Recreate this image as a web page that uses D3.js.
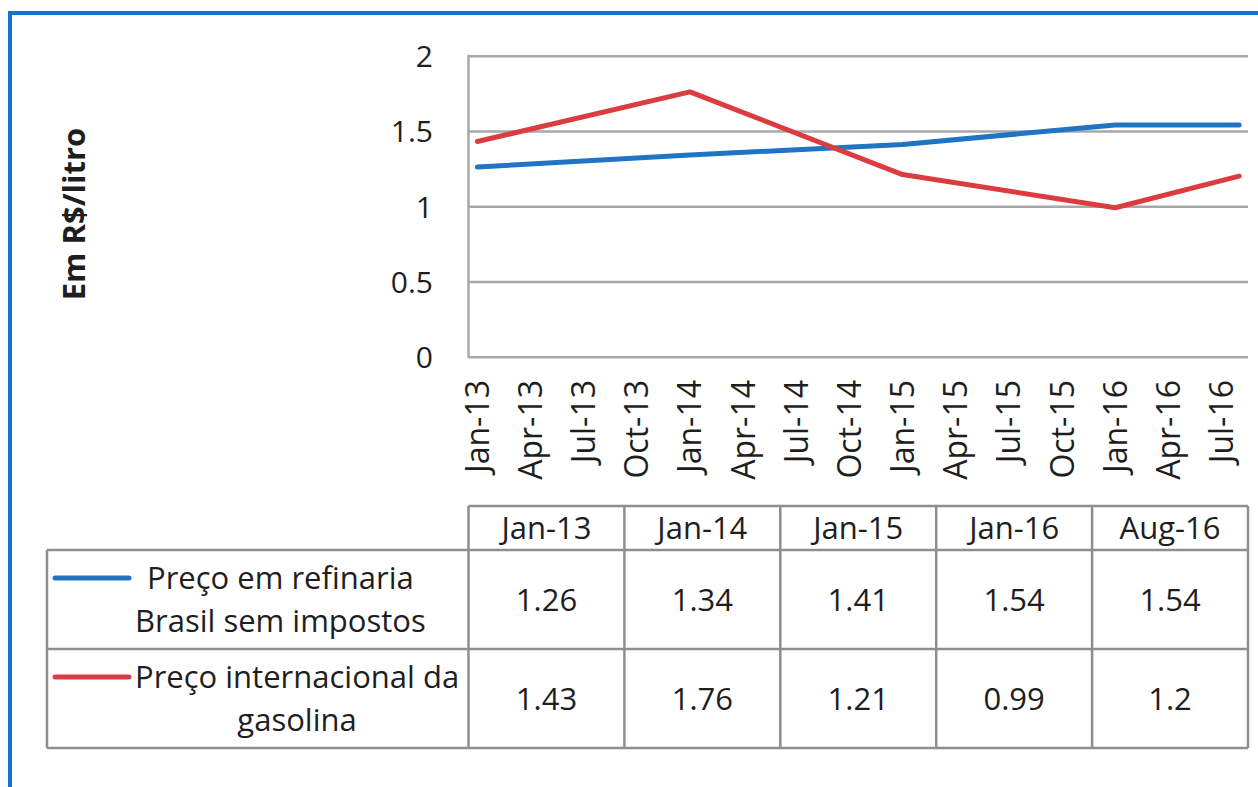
<!DOCTYPE html>
<html>
<head>
<meta charset="utf-8">
<script src="https://cdn.jsdelivr.net/npm/d3@7"></script>
<style>
  html, body { margin: 0; padding: 0; background: #fff; }
  svg { display: block; font-family: "Open Sans", "DejaVu Sans", sans-serif; }
</style>
</head>
<body>
<svg id="chart" width="1258" height="787"></svg>
<script>
// ---- data ----
const periods = ["2013-01", "2014-01", "2015-01", "2016-01", "2016-08"];
const periodLabels = ["Jan-13", "Jan-14", "Jan-15", "Jan-16", "Aug-16"];
const refinaria = [1.26, 1.34, 1.41, 1.54, 1.54];
const internacional = [1.43, 1.76, 1.21, 0.99, 1.2];
const seriesNames = [
  ["Preço em refinaria", "Brasil sem impostos"],
  ["Preço internacional da", "gasolina"]
];
const yTicks = [0, 0.5, 1, 1.5, 2];
const axisStart = "2013-01";
const axisEnd = "2016-08";
const yTitle = "Em R$/litro";

// ---- styling / layout ----
const seriesColors = ["#1f74c3", "#dc3c3f"];
const textColor = "#1e1e1e";
const gridColor = "#a8a8a8";
const tableColor = "#8e8e8e";
const frameColor = "#1672c8";
const plot = { left: 468.5, right: 1248, top: 55.7, bottom: 356.7 };
const table = { left: 47, headTop: 506, headBottom: 550, row1Bottom: 649, row2Bottom: 748 };

const svg = d3.select("#chart");

// outer blue frame (top and left edges)
svg.append("line").attr("x1", 10).attr("x2", 1258).attr("y1", 13).attr("y2", 13)
  .attr("stroke", frameColor).attr("stroke-width", 4);
svg.append("line").attr("x1", 10).attr("x2", 10).attr("y1", 11).attr("y2", 787)
  .attr("stroke", frameColor).attr("stroke-width", 4);

// ---- scales ----
const parseMonth = d3.timeParse("%Y-%m");
const t0 = parseMonth(axisStart);
const t1 = parseMonth(axisEnd);
const nMonths = d3.timeMonth.count(t0, t1);
const monthIndex = d => d3.timeMonth.count(t0, parseMonth(d));

const x = d3.scaleLinear().domain([-0.5, nMonths + 0.5]).range([plot.left, plot.right]);
const y = d3.scaleLinear().domain([0, 2]).range([plot.bottom, plot.top]);

// ---- y axis with gridlines ----
const yAxis = d3.axisLeft(y)
  .tickValues(yTicks)
  .tickFormat(d3.format(""))
  .tickSize(-(plot.right - plot.left))
  .tickPadding(35.5);

const gy = svg.append("g")
  .attr("transform", `translate(${plot.left},0)`)
  .call(yAxis);
gy.select(".domain").remove();
gy.selectAll(".tick line").attr("stroke", gridColor).attr("stroke-width", 2.5);
gy.selectAll(".tick text")
  .attr("fill", textColor)
  .attr("font-family", "Open Sans")
  .attr("font-size", 30)
  .attr("dy", "0.36em");

// vertical axis line
svg.append("line")
  .attr("x1", plot.left).attr("x2", plot.left)
  .attr("y1", plot.top - 1).attr("y2", plot.bottom + 1)
  .attr("stroke", gridColor).attr("stroke-width", 2.5);

// y axis title
svg.append("text")
  .attr("transform", "translate(74,214) rotate(-90)")
  .attr("text-anchor", "middle")
  .attr("dy", "0.35em")
  .attr("font-size", 31)
  .attr("font-weight", "bold")
  .attr("fill", textColor)
  .text(yTitle);

// ---- x axis: quarterly month labels, rotated ----
const quarterTicks = d3.timeMonth.every(3).range(t0, d3.timeMonth.offset(t1, 1));
const fmt = d3.timeFormat("%b-%y");
svg.append("g").selectAll("text")
  .data(quarterTicks)
  .join("text")
  .attr("transform", d => `translate(${x(d3.timeMonth.count(t0, d))},380) rotate(-90)`)
  .attr("text-anchor", "end")
  .attr("dy", "0.36em")
  .attr("font-size", 32)
  .attr("fill", textColor)
  .text(d => fmt(d));

// ---- series lines ----
const seriesValues = [refinaria, internacional];
const line = d3.line()
  .x((d, i) => x(monthIndex(periods[i])))
  .y(d => y(d));

svg.append("g").selectAll("path")
  .data(seriesValues)
  .join("path")
  .attr("d", d => line(d))
  .attr("fill", "none")
  .attr("stroke", (d, i) => seriesColors[i])
  .attr("stroke-width", 5)
  .attr("stroke-linejoin", "round")
  .attr("stroke-linecap", "round");

// ---- data table below the chart ----
const col = d3.scaleBand().domain(periodLabels).range([plot.left, plot.right]);
const rowBounds = [
  [table.headBottom, table.row1Bottom],
  [table.row1Bottom, table.row2Bottom]
];

const gt = svg.append("g");
const hLine = (x1, x2, yy) => gt.append("line")
  .attr("x1", x1).attr("x2", x2).attr("y1", yy).attr("y2", yy)
  .attr("stroke", tableColor).attr("stroke-width", 2.5);
const vLine = (xx, y1, y2) => gt.append("line")
  .attr("x1", xx).attr("x2", xx).attr("y1", y1).attr("y2", y2)
  .attr("stroke", tableColor).attr("stroke-width", 2.5);

hLine(plot.left, plot.right, table.headTop);
hLine(table.left, plot.right, table.headBottom);
hLine(table.left, plot.right, table.row1Bottom);
hLine(table.left, plot.right, table.row2Bottom);
vLine(table.left, table.headBottom, table.row2Bottom);
periodLabels.forEach(p => vLine(col(p), table.headTop, table.row2Bottom));
vLine(plot.right, table.headTop, table.row2Bottom);

// header labels
gt.selectAll("text.head")
  .data(periodLabels)
  .join("text")
  .attr("class", "head")
  .attr("x", d => col(d) + col.bandwidth() / 2)
  .attr("y", (table.headTop + table.headBottom) / 2)
  .attr("dy", "0.36em")
  .attr("text-anchor", "middle")
  .attr("font-size", 31)
  .attr("fill", textColor)
  .text(d => d);

// value cells
seriesValues.forEach((vals, r) => {
  const cy = (rowBounds[r][0] + rowBounds[r][1]) / 2;
  gt.append("g").selectAll("text")
    .data(vals)
    .join("text")
    .attr("x", (d, i) => col(periodLabels[i]) + col.bandwidth() / 2)
    .attr("y", cy)
    .attr("dy", "0.36em")
    .attr("text-anchor", "middle")
    .attr("font-size", 31)
    .attr("fill", textColor)
    .text(d => String(d));
});

// legend cells: colour key and wrapped series name
const keyX1 = 55, keyX2 = 129, blockLeft = 135, lineGap = 43;
seriesNames.forEach((lines, r) => {
  const cy = (rowBounds[r][0] + rowBounds[r][1]) / 2;
  const firstY = cy - lineGap / 2;
  gt.append("line")
    .attr("x1", keyX1).attr("x2", keyX2)
    .attr("y1", firstY).attr("y2", firstY)
    .attr("stroke", seriesColors[r])
    .attr("stroke-width", 5)
    .attr("stroke-linecap", "round");
  const texts = gt.append("g").selectAll("text")
    .data(lines)
    .join("text")
    .attr("y", (d, i) => firstY + i * lineGap)
    .attr("dy", "0.36em")
    .attr("text-anchor", "middle")
    .attr("font-size", 31)
    .attr("fill", textColor)
    .text(d => d);
  let maxW = 0;
  texts.each(function () { maxW = Math.max(maxW, this.getComputedTextLength()); });
  texts.attr("x", blockLeft + maxW / 2);
});
</script>
</body>
</html>
